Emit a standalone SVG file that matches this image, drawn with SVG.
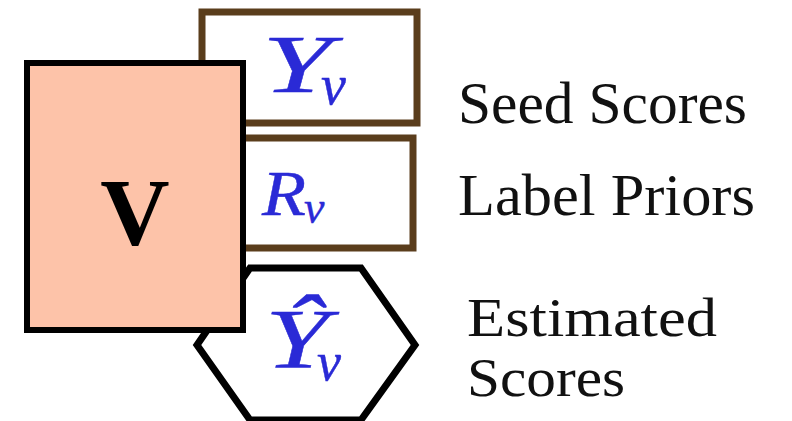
<svg xmlns="http://www.w3.org/2000/svg" width="792" height="421" viewBox="0 0 792 421">
<style>
.box{fill:#fff;stroke:#5a3d1c;stroke-width:7}
.math{font-family:"Liberation Serif","DejaVu Serif",serif;font-style:italic;fill:#2a2ad6;stroke:#2a2ad6;stroke-width:0.4}
.lbl{font-family:"Liberation Serif","DejaVu Serif",serif;font-size:60px;fill:#111}
.lbl2{font-family:"Liberation Serif","DejaVu Serif",serif;font-size:54px;fill:#111}
</style>
<rect width="792" height="421" fill="#fff"/>
<g id="seed">
<rect class="box" x="202" y="12" width="215" height="111"/>
<text class="math" x="262" y="92" font-size="82" textLength="70" lengthAdjust="spacingAndGlyphs">Y</text>
<text class="math" x="321" y="104" font-size="56">v</text>
</g>
<g id="prior">
<rect class="box" x="215" y="138" width="198" height="110"/>
<text class="math" x="262" y="215" font-size="64" textLength="44" lengthAdjust="spacingAndGlyphs">R</text>
<text class="math" x="304" y="223" font-size="46">v</text>
</g>
<g id="estimated">
<polygon points="197,345 250,268 361,268 415,345 361,420 250,420" fill="#fff" stroke="#000" stroke-width="7" stroke-linejoin="miter"/>
<text class="math" x="265" y="368" font-size="84" textLength="64" lengthAdjust="spacingAndGlyphs">Ŷ</text>
<text class="math" x="317" y="380" font-size="54">v</text>
</g>
<g id="V">
<rect x="27" y="63" width="216" height="267" fill="#fdc3a9" stroke="#000" stroke-width="6"/>
<text x="135" y="245" font-family="Liberation Serif, DejaVu Serif, serif" font-weight="bold" font-size="96" text-anchor="middle" fill="#000">V</text>
</g>
<g id="labels">
<text class="lbl" x="458" y="123" textLength="289" lengthAdjust="spacingAndGlyphs">Seed Scores</text>
<text class="lbl" x="458" y="215" textLength="297" lengthAdjust="spacingAndGlyphs">Label Priors</text>
<text class="lbl2" x="467" y="336" textLength="250" lengthAdjust="spacingAndGlyphs">Estimated</text>
<text class="lbl2" x="467" y="396" textLength="158" lengthAdjust="spacingAndGlyphs">Scores</text>
</g>
<g id="connectors"/>
</svg>
